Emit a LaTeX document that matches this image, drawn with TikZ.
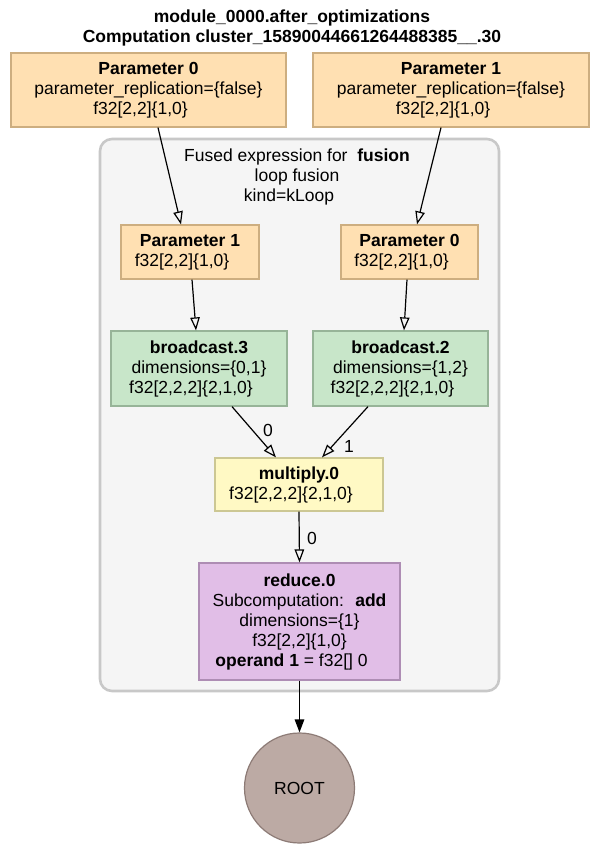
\documentclass[tikz,border=0pt]{standalone}
\usepackage{fontspec}
\setmainfont{Liberation Sans}
\usetikzlibrary{arrows.meta,calc}
\definecolor{paramfill}{HTML}{FFE0B2}
\definecolor{paramdraw}{HTML}{CDAE80}
\definecolor{bcfill}{HTML}{C8E6C9}
\definecolor{bcdraw}{HTML}{97B498}
\definecolor{mulfill}{HTML}{FFF9C4}
\definecolor{muldraw}{HTML}{CCC793}
\definecolor{redfill}{HTML}{E1BEE7}
\definecolor{reddraw}{HTML}{AE8DB4}
\definecolor{rootfill}{HTML}{BCAAA4}
\definecolor{rootdraw}{HTML}{8D7B76}
\definecolor{clfill}{HTML}{F5F5F5}
\definecolor{cldraw}{HTML}{C8C8C8}
\newcommand{\plainpad}{\hspace*{16pt}}
\tikzset{
  txt/.style={font=\fontsize{17.5}{20}\selectfont, align=center, inner sep=0pt},
  box/.style={txt, draw, line width=1.2pt, rectangle},
  parambox/.style={box, fill=paramfill, draw=paramdraw},
  bcbox/.style={box, fill=bcfill, draw=bcdraw},
  mulbox/.style={box, fill=mulfill, draw=muldraw},
  redbox/.style={box, fill=redfill, draw=reddraw},
  edge/.style={line width=1.2pt, -{Triangle[open, length=13pt, width=9.5pt]}},
  rootedge/.style={line width=1.3pt, -{Triangle[length=13pt, width=9.5pt]}},
  elabel/.style={font=\fontsize{17.5}{20}\selectfont, inner sep=0pt}
}
\begin{document}
\begin{tikzpicture}[x=1pt,y=-1pt]
\useasboundingbox (0,0) rectangle (599,844);
\fill[white] (0,0) rectangle (599,844);
% title
\node[txt, font=\fontsize{17.5}{20}\selectfont\bfseries] (title) at (292,28) {module\_0000.after\_optimizations\\Computation cluster\_15890044661264488385\_\_.30};
% cluster
\draw[fill=clfill, draw=cldraw, line width=2.6pt, rounded corners=12pt] (100,139) rectangle (499,691);
\node[txt] (cllabel) at (297,177) {Fused expression for \ \textbf{fusion}\\loop fusion\plainpad\\kind=kLoop\plainpad};
% outer parameters
\node[parambox, minimum width=275pt, minimum height=74pt] (p0) at (148.5,90) {\textbf{Parameter 0}\\parameter\_replication=\{false\}\plainpad\\f32[2,2]\{1,0\}\plainpad};
\node[parambox, minimum width=276pt, minimum height=74pt] (p1) at (451,90) {\textbf{Parameter 1}\\parameter\_replication=\{false\}\plainpad\\f32[2,2]\{1,0\}\plainpad};
% inner parameters
\node[parambox, minimum width=138pt, minimum height=54pt] (ip1) at (190,252) {\textbf{Parameter 1}\\f32[2,2]\{1,0\}\plainpad};
\node[parambox, minimum width=137pt, minimum height=54pt] (ip0) at (409.5,252) {\textbf{Parameter 0}\\f32[2,2]\{1,0\}\plainpad};
% broadcasts
\node[bcbox, minimum width=176pt, minimum height=75pt] (bc3) at (199,368.5) {\textbf{broadcast.3}\\dimensions=\{0,1\}\plainpad\\f32[2,2,2]\{2,1,0\}\plainpad};
\node[bcbox, minimum width=175pt, minimum height=75pt] (bc2) at (400.5,368.5) {\textbf{broadcast.2}\\dimensions=\{1,2\}\plainpad\\f32[2,2,2]\{2,1,0\}\plainpad};
% multiply
\node[mulbox, minimum width=168pt, minimum height=53pt] (mul) at (299,484.5) {\textbf{multiply.0}\\f32[2,2,2]\{2,1,0\}\plainpad};
% reduce
\node[redbox, minimum width=201pt, minimum height=117pt] (red) at (299.5,621.5) {\textbf{reduce.0}\\Subcomputation: \ \textbf{add}\\dimensions=\{1\}\plainpad\\f32[2,2]\{1,0\}\plainpad\\\textbf{operand 1} = f32[] 0\plainpad};
% root
\node[txt, circle, draw=rootdraw, fill=rootfill, line width=1.2pt, minimum size=110pt] (root) at (299.5,788) {ROOT};
% edges
\draw[edge] ($(p0.south)+(9.5,0)$) -- ($(ip1.north)+(-9,0)$);
\draw[edge] ($(p1.south)+(-10,0)$) -- ($(ip0.north)+(7.5,0)$);
\draw[edge] ($(ip1.south)+(2,0)$) -- ($(bc3.north)+(-3,0)$);
\draw[edge] ($(ip0.south)+(-2.5,0)$) -- ($(bc2.north)+(3.5,0)$);
\draw[edge] ($(bc3.south)+(33,0)$) -- ($(mul.north)+(-23,0)$);
\draw[edge] ($(bc2.south)+(-32.5,0)$) -- ($(mul.north)+(23,0)$);
\draw[edge] (mul.south) -- (red.north);
\draw[rootedge] (red.south) -- (root.north);
% edge labels
\node[elabel] (l0) at (268,430) {0};
\node[elabel] (l1) at (349,446) {1};
\node[elabel] (l2) at (312,538) {0};
\end{tikzpicture}
\end{document}
